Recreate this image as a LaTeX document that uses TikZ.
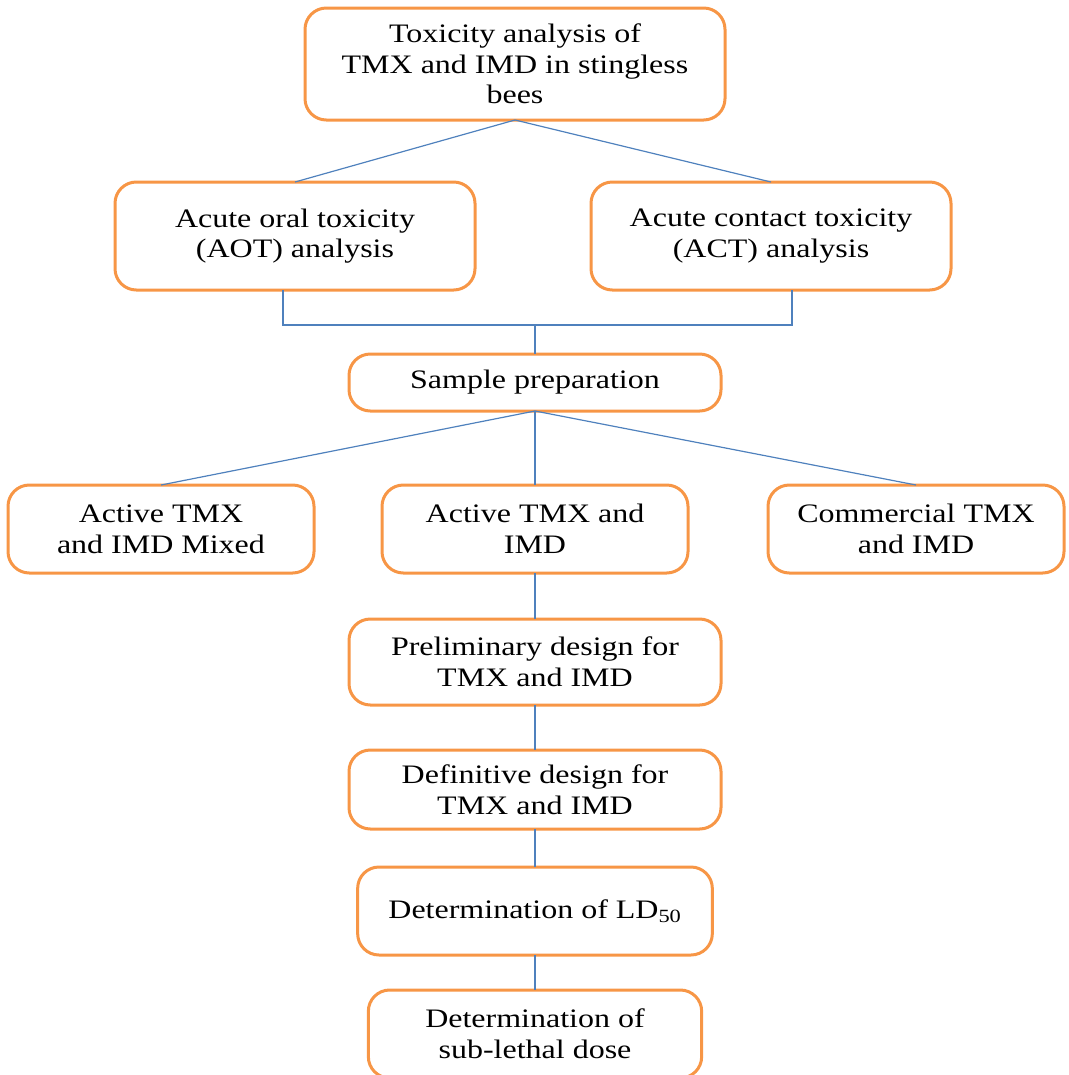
\documentclass[tikz,border=0pt]{standalone}
\usepackage{fontspec}
\setmainfont{Liberation Serif}[FakeStretch=1.2]
\usetikzlibrary{positioning}
\definecolor{boxorange}{HTML}{F79646}
\definecolor{linkblue}{HTML}{4F81BD}
\tikzset{
  stage/.style={
    draw=boxorange,
    rectangle,
    rounded corners=16pt,
    line width=2.25pt,
    fill=white,
    align=center,
    inner sep=0,
    outer sep=0,
    node font=\fontsize{20}{23}\selectfont,
    minimum width=229.5pt,
    minimum height=66pt,
  },
  wide/.style={
    stage,
    minimum width=279pt,
  },
  link/.style={
    draw,
    linkblue,
    line width=0.9pt,
  },
}

\begin{document}
\begin{tikzpicture}[x=0.75pt,y=-0.75pt]
  \useasboundingbox (0,0) rectangle (1068,1075);

  \node (study) [stage,minimum width=315pt,minimum height=84pt] at (515,64) {%
    Toxicity analysis of\\
    TMX and IMD in stingless\\
    bees};
  \node (aot) [stage,minimum width=270pt,minimum height=81pt] at (295,236) {%
    Acute oral toxicity\\
    (AOT) analysis};
  \node (act) [stage,minimum width=270pt,minimum height=81pt] at (771,236) {%
    Acute contact toxicity\\
    (ACT) analysis};
  \node (sample) [wide,minimum height=42.75pt] at (535,382.5) {Sample preparation};

  \node (active) [stage,below=55.5pt of sample] {%
    Active TMX and\\
    IMD};
  \node (mixed) [stage,left=51pt of active] {%
    Active TMX\\
    and IMD Mixed};
  \node (commercial) [stage,minimum width=222pt,right=60pt of active] {%
    Commercial TMX\\
    and IMD};

  \node (prelim) [wide,minimum height=64.5pt,below=34.5pt of active] {%
    Preliminary design for\\
    TMX and IMD};
  \node (definitive) [wide,minimum height=59.25pt,below=33.75pt of prelim] {%
    Definitive design for\\
    TMX and IMD};
  \node (lethal) [stage,minimum width=266pt,below=28.5pt of definitive] {%
    Determination of LD\textsubscript{50}};
  \node (sublethal) [stage,minimum width=250pt,below=26.25pt of lethal] {%
    Determination of\\
    sub-lethal dose};

  \path [link] (study.south) -- (aot.north);
  \path [link] (study.south) -- (act.north);

  \coordinate (bar) at ([xshift=-9pt,yshift=-26.25pt]aot.south);
  \path [link] ([xshift=-9pt]aot.south) -- (bar) -| ([xshift=15.75pt]act.south);
  \path [link] (sample.north) -- (sample.north |- bar);

  \path [link] (sample.south) -- (mixed.north);
  \path [link] (sample.south) -- (active.north);
  \path [link] (sample.south) -- (commercial.north);

  \path [link] (active) -- (prelim);
  \path [link] (prelim) -- (definitive);
  \path [link] (definitive) -- (lethal);
  \path [link] (lethal) -- (sublethal);
\end{tikzpicture}
\end{document}
